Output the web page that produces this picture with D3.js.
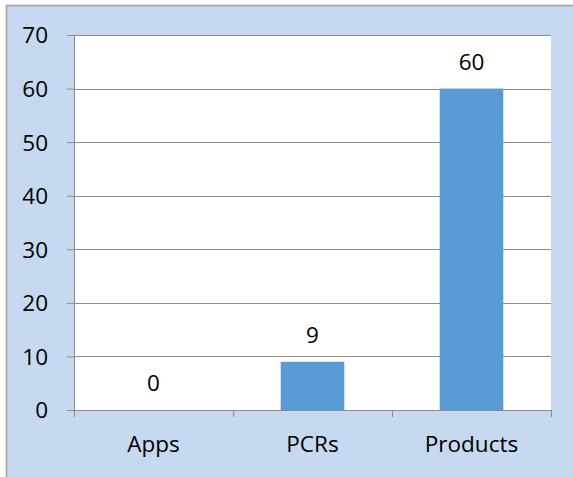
<!DOCTYPE html>
<html>
<head>
<meta charset="utf-8">
<script src="https://cdn.jsdelivr.net/npm/d3@7"></script>
<style>
  body { margin: 0; background: #fff; }
  text { font-family: "Open Sans", "Noto Sans", sans-serif; fill: #000; }
</style>
</head>
<body>
<div id="vis"></div>
<script>
// chart data
var categories = ["Apps", "PCRs", "Products"];
var values = [0, 9, 60];
var yTicks = [0, 10, 20, 30, 40, 50, 60, 70];

var width = 573, height = 477;
var fontSize = "22.5px";

var svg = d3.select("#vis")
  .append("svg")
  .attr("width", width)
  .attr("height", height);

// outer chart area
svg.append("rect")
  .attr("x", 6.5)
  .attr("y", 5.5)
  .attr("width", width + 10)
  .attr("height", height + 10)
  .attr("fill", "#c6d9f1")
  .attr("stroke", "#a0a0a0")
  .attr("stroke-width", 1.5);

var margin = {top: 35, left: 74, right: 22, bottom: 67},
    graphWidth = width - margin.left - margin.right,
    graphHeight = height - margin.top - margin.bottom;

var graph = svg.append("g")
  .attr("transform", "translate(" + margin.left + "," + margin.top + ")");

graph.append("rect")
  .attr("width", graphWidth)
  .attr("height", graphHeight)
  .attr("fill", "#fff");

var x = d3.scaleBand().domain(categories).range([0, graphWidth]).padding(0);
var y = d3.scaleLinear().domain([0, 70]).range([graphHeight, 0]);

// gridlines
graph.selectAll(".grid")
  .data(yTicks.slice(1))
  .enter().append("line")
  .attr("x1", 0)
  .attr("x2", graphWidth)
  .attr("y1", function(d) { return Math.round(y(d)) + 0.5; })
  .attr("y2", function(d) { return Math.round(y(d)) + 0.5; })
  .attr("stroke", "#8c8c8c")
  .attr("stroke-width", 1);

// bars
var barW = x.bandwidth() * 0.4;
graph.selectAll(".bar")
  .data(values)
  .enter().append("rect")
  .attr("x", function(d, i) { return x(categories[i]) + (x.bandwidth() - barW) / 2; })
  .attr("y", function(d) { return y(d); })
  .attr("width", barW)
  .attr("height", function(d) { return graphHeight - y(d); })
  .attr("fill", "#5b9bd5");

// value labels
graph.selectAll(".val")
  .data(values)
  .enter().append("text")
  .attr("x", function(d, i) { return x(categories[i]) + x.bandwidth() / 2; })
  .attr("y", function(d) { return y(d) - 19; })
  .attr("text-anchor", "middle")
  .attr("font-size", fontSize)
  .text(function(d) { return d; });

// y axis
var yAxis = graph.append("g")
  .call(d3.axisLeft(y).tickValues(yTicks).tickSize(7).tickPadding(19));
yAxis.selectAll("text").attr("font-size", fontSize).attr("dy", "0.35em");

// x axis with ticks at category boundaries
var xAxis = graph.append("g")
  .attr("transform", "translate(0," + graphHeight + ")");
xAxis.append("line")
  .attr("x1", -7).attr("x2", graphWidth)
  .attr("y1", 0.5).attr("y2", 0.5);
xAxis.selectAll(".xt")
  .data(d3.range(categories.length + 1))
  .enter().append("line")
  .attr("x1", function(i) { return Math.round(i * x.step()) + 0.5; })
  .attr("x2", function(i) { return Math.round(i * x.step()) + 0.5; })
  .attr("y1", 0).attr("y2", 7);
xAxis.selectAll("line").attr("stroke", "#8c8c8c");
xAxis.selectAll(".xl")
  .data(categories)
  .enter().append("text")
  .attr("x", function(d) { return x(d) + x.bandwidth() / 2; })
  .attr("y", 42)
  .attr("text-anchor", "middle")
  .attr("font-size", fontSize)
  .text(function(d) { return d; });

yAxis.select(".domain").attr("stroke", "#8c8c8c");
yAxis.selectAll(".tick line").attr("stroke", "#8c8c8c");
</script>
</body>
</html>
